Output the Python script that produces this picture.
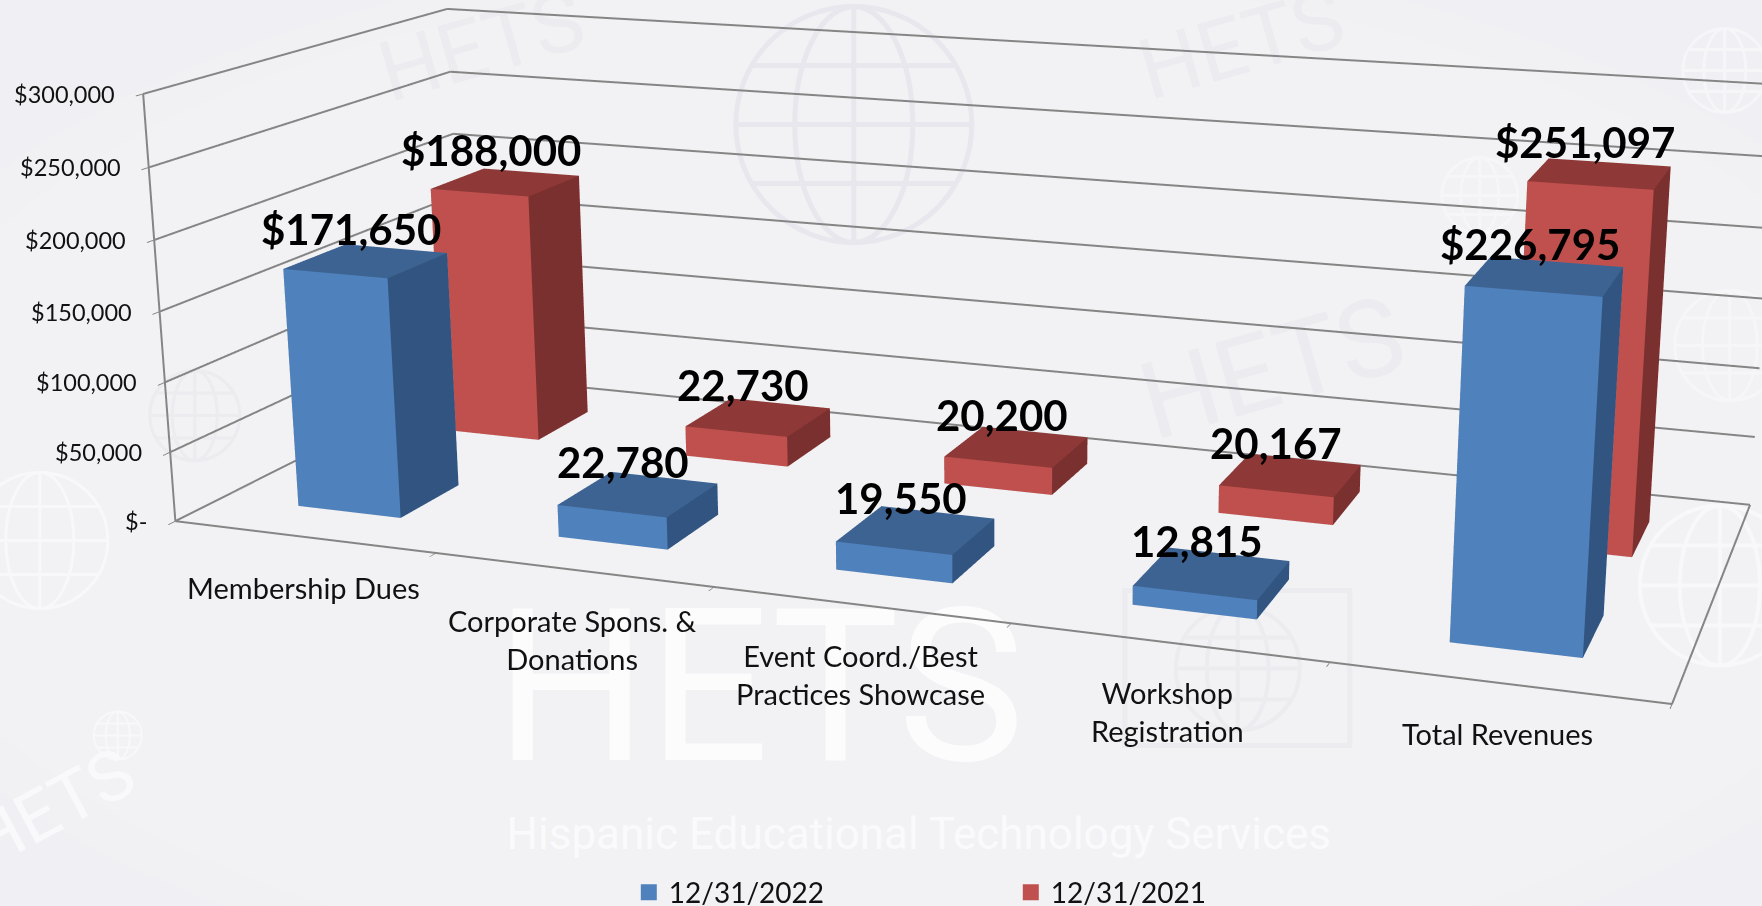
import numpy as np, plotly.graph_objects as go

categories=["Membership Dues","Corporate Spons. &<br>Donations","Event Coord./Best<br>Practices Showcase","Workshop<br>Registration","Total Revenues"]
values_2022=[171650,22780,19550,12815,226795]
values_2021=[188000,22730,20200,20167,251097]
labels_2022=["$171,650","22,780","19,550","12,815","$226,795"]
labels_2021=["$188,000","22,730","20,200","20,167","$251,097"]
z_ticks=[0,50000,100000,150000,200000,250000,300000]
z_text=["$-","$50,000","$100,000","$150,000","$200,000","$250,000","$300,000"]

# Camera fitted to the reference's long-lens view (plotly's field of view is fixed,
# so the figure is larger than the window and offset to give the same focal length).
ax,ay,az=2.0,0.7927,0.5848
ex,ey,ez=1.3714,-3.7292,0.9901
yaw,pitch,roll=-0.3423,-0.2707,0.0004
FW,FH,left,top=1998,2530,0.2,-879.5
fw=np.array([np.sin(yaw)*np.cos(pitch),np.cos(yaw)*np.cos(pitch),np.sin(pitch)])
right=np.cross(fw,[0,0,1]);right/=np.linalg.norm(right)
u2=np.cross(right,fw)
u2=-np.sin(roll)*right+np.cos(roll)*u2

def PX(x): return (x-left)/FW
def PY(y): return 1-(y-top)/FH

def bars(vals,y0,y1,c_front,c_top,c_side,name):
    X,Y,Z,I,J,K,C=[],[],[],[],[],[],[]
    for i,v in enumerate(vals):
        x0,x1=i+.3,i+.7
        b=len(X)
        X+=[x0,x1,x1,x0,x0,x1,x1,x0];Y+=[y0,y0,y1,y1,y0,y0,y1,y1];Z+=[0,0,0,0,v,v,v,v]
        for q,col in (((0,1,5,4),c_front),((1,2,6,5),c_side),((4,5,6,7),c_top),((3,2,6,7),c_front),((0,3,7,4),c_side),((0,1,2,3),c_top)):
            I+=[b+q[0],b+q[0]];J+=[b+q[1],b+q[2]];K+=[b+q[2],b+q[3]];C+=[col,col]
    return go.Mesh3d(x=X,y=Y,z=Z,i=I,j=J,k=K,facecolor=C,flatshading=True,name=name,hoverinfo="skip",showlegend=False,
        lighting=dict(ambient=1,diffuse=0,specular=0,fresnel=0,roughness=1))

fig=go.Figure()
# wall gridlines and axis lines (WebGL native lines are limited to 1 px)
gx,gy,gz=[],[],[]
zmax=z_ticks[-1]
for v in z_ticks:
    gx+=[0,0,5,None];gy+=[0,1,1,None];gz+=[v,v,v,None]
gx+=[0,0,None,0,5,5];gy+=[0,0,None,0,0,1];gz+=[0,zmax,None,0,0,0]
fig.add_trace(go.Scatter3d(x=gx,y=gy,z=gz,mode="lines",line=dict(color="#858585",width=4),hoverinfo="skip",showlegend=False))
fig.add_trace(bars(values_2021,.645,.845,"#c0504d","#8e3937","#7b3030","12/31/2021"))
fig.add_trace(bars(values_2022,.145,.345,"#4f81bd","#3d6392","#315580","12/31/2022"))
for nm,col in (("12/31/2022","#4f81bd"),("12/31/2021","#c0504d")):
    fig.add_trace(go.Scatter3d(x=[None],y=[None],z=[None],mode="markers",marker=dict(symbol="square",size=18,color=col),name=nm))

F="Lato"
ann=[]
lab=dict(showarrow=False,font=dict(family=F,size=42,color="black",weight="bold"))
for i in range(5):
    ann.append(dict(x=i+.5,y=.245,z=values_2022[i],text=labels_2022[i],yanchor="bottom",yshift=5,xshift=-15,**lab))
    ann.append(dict(x=i+.5,y=.745,z=values_2021[i],text=labels_2021[i],yanchor="bottom",yshift=5,xshift=-15,**lab))
    ann.append(dict(x=i+.5,y=0,z=0,text=categories[i],yanchor="top",yshift=-31,xshift=0,align="center",showarrow=False,font=dict(family=F,size=29,color="#111111")))
for v,t in zip(z_ticks,z_text):
    ann.append(dict(x=0,y=0,z=v,text=t,xanchor="right",xshift=-26,showarrow=False,font=dict(family=F,size=23.5,color="#111111")))

# faint background artwork, below the 3D canvas
shapes=[]
def oval(cx,cy,rx,ry,**kw):
    shapes.append(dict(type="circle",xref="paper",yref="paper",x0=PX(cx-rx),x1=PX(cx+rx),y0=PY(cy+ry),y1=PY(cy-ry),layer="below",**kw))
for k in range(16):
    oval(900,480,1100-k*62,540-k*30,fillcolor="rgba(255,255,255,0.07)",line=dict(width=0))
def globe(cx,cy,r,col,w=3):
    ln=dict(color=col,width=w)
    oval(cx,cy,r,r,line=ln)
    oval(cx,cy,r*.5,r,line=ln)
    for f in (-.5,0,.5):
        hw=r*(1-f*f)**.5
        shapes.append(dict(type="line",xref="paper",yref="paper",x0=PX(cx-hw),x1=PX(cx+hw),y0=PY(cy+f*r),y1=PY(cy+f*r),layer="below",line=ln))
    shapes.append(dict(type="line",xref="paper",yref="paper",x0=PX(cx),x1=PX(cx),y0=PY(cy-r),y1=PY(cy+r),layer="below",line=ln))
globe(854,124,118,"#e7e7ed",5)
globe(40,540,68,"#f8f8fb")
globe(1720,585,80,"#f8f8fb",4)
globe(1730,345,55,"#f6f6f9")
globe(1480,195,38,"#f6f6f9")
globe(1725,70,42,"#f6f6f9")
globe(118,735,24,"#f8f8fb",2)
globe(195,415,45,"#ebebf0")
def mark(cx,cy,text,size,angle,col,family="Roboto",weight="normal"):
    shapes.append(dict(type="rect",xref="paper",yref="paper",x0=PX(cx-5),x1=PX(cx+5),y0=PY(cy+5),y1=PY(cy-5),layer="below",
        fillcolor="rgba(0,0,0,0)",line=dict(width=0),
        label=dict(text=text,textposition="middle center",textangle=angle,font=dict(family=family,size=size,color=col,weight=weight))))
mark(760,671,"HETS",214,0,"#fcfcfd")
mark(919,830,"Hispanic Educational Technology Services",44,0,"#fafafc")
mark(1270,360,"HETS",108,-16,"#ebebf0")
mark(1240,38,"HETS",84,-16,"#ebebf0")
mark(480,40,"HETS",84,-16,"#ebebf0")
mark(50,803,"HETS",70,-28,"#f9f9fb")
shapes.append(dict(type="rect",xref="paper",yref="paper",x0=PX(1125),x1=PX(1350),y0=PY(745),y1=PY(590),layer="below",fillcolor="rgba(0,0,0,0)",line=dict(color="#ebebf0",width=5)))
globe(1238,668,62,"#ebebf0",4)

ax_common=dict(showbackground=False,showspikes=False,zeroline=False,title="",showticklabels=False,
    tickcolor="#858585",tickwidth=2)
fig.update_layout(
    width=FW,height=FH,margin=dict(l=0,r=0,t=0,b=0),paper_bgcolor="#f0f0f4",shapes=shapes,
    scene=dict(domain=dict(x=[0,1],y=[0,1]),aspectmode="manual",aspectratio=dict(x=ax,y=ay,z=az),
        camera=dict(eye=dict(x=ex,y=ey,z=ez),center=dict(x=ex+fw[0],y=ey+fw[1],z=ez+fw[2]),up=dict(x=u2[0],y=u2[1],z=u2[2]),projection=dict(type="perspective")),
        xaxis=dict(range=[0,5],tickvals=[0,1,2,3,4,5],ticks="outside",ticklen=10,showgrid=False,showline=False,**ax_common),
        yaxis=dict(range=[0,1],tickvals=[],ticks="",showgrid=False,showline=False,**ax_common),
        zaxis=dict(range=[0,zmax],tickvals=z_ticks,ticks="outside",ticklen=10,showgrid=False,showline=False,**ax_common),
        annotations=ann),
    legend=dict(orientation="h",x=PX(629),y=PY(892),xanchor="left",yanchor="middle",entrywidth=337,entrywidthmode="pixels",
        font=dict(family=F,size=28,color="#111111"),bgcolor="rgba(0,0,0,0)"),
)
js=f"var g=document.getElementById('{{plot_id}}');g.style.position='absolute';g.style.left='{left:.1f}px';g.style.top='{top:.1f}px';document.documentElement.style.overflow='hidden';document.body.style.overflow='hidden';"
fig.write_html("out.html",post_script=js,config=dict(displayModeBar=False))
